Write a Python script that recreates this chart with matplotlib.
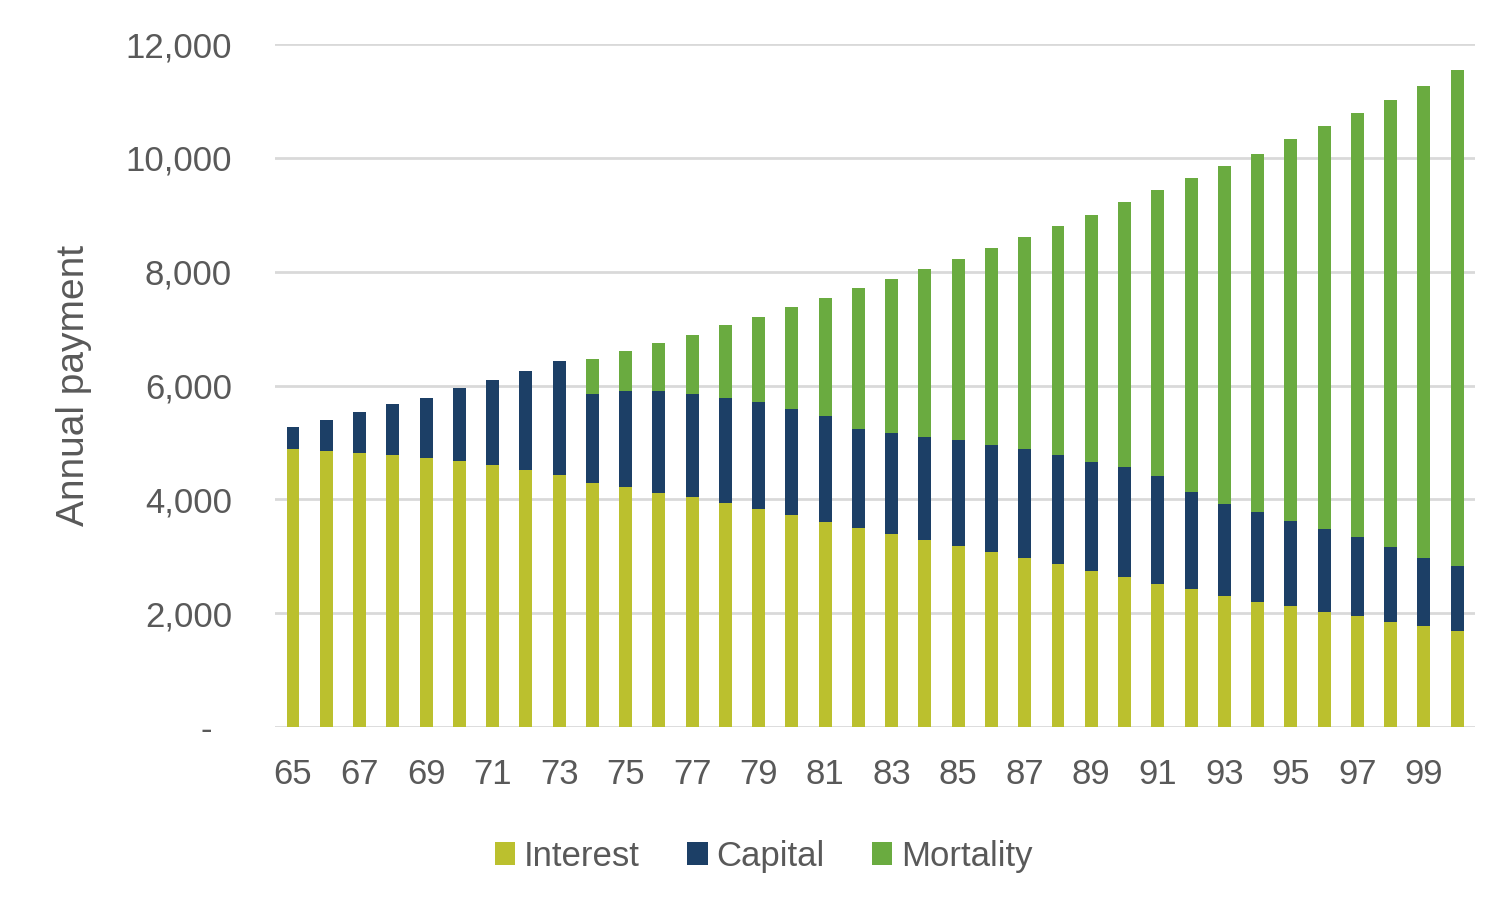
import numpy as np
import matplotlib
matplotlib.use('Agg')
from matplotlib import pyplot as plt
from matplotlib.ticker import FuncFormatter

plt.rcParams['font.family'] = ['Liberation Sans', 'DejaVu Sans']

ages = list(range(65, 101))
interest = [4890, 4850, 4810, 4780, 4720, 4670, 4600, 4510, 4430, 4280,
            4220, 4110, 4040, 3935, 3825, 3720, 3605, 3500, 3400, 3285,
            3185, 3080, 2975, 2865, 2750, 2632, 2521, 2417, 2305, 2194,
            2125, 2021, 1951, 1847, 1778, 1694]
capital = [390, 540, 720, 890, 1060, 1290, 1500, 1740, 2000, 1570,
           1680, 1790, 1810, 1845, 1880, 1875, 1860, 1740, 1770, 1815,
           1850, 1880, 1915, 1910, 1915, 1937, 1895, 1708, 1611, 1584,
           1493, 1458, 1389, 1320, 1194, 1139]
mortality = [0, 0, 0, 0, 0, 0, 0, 0, 0, 610,
             710, 850, 1040, 1290, 1500, 1785, 2065, 2465, 2710, 2950,
             3195, 3460, 3715, 4035, 4325, 4653, 5014, 5527, 5945, 6298,
             6715, 7076, 7451, 7846, 8284, 8715]
labels = ['Interest', 'Capital', 'Mortality']
colors = ['#BBC02E', '#1C3F66', '#6AAB40']

txt = '#595959'

fig = plt.figure(figsize=(15.12, 9.08), dpi=100)
ax = fig.add_axes([0.1819, 0.1993, 0.7937, 0.7522])

x = np.array(ages)
w = 0.39
i_arr = np.array(interest)
c_arr = np.array(capital)
m_arr = np.array(mortality)
ax.bar(x, i_arr, w, color=colors[0], label=labels[0], zorder=3)
ax.bar(x, c_arr, w, bottom=i_arr, color=colors[1], label=labels[1], zorder=3)
ax.bar(x, m_arr, w, bottom=i_arr + c_arr, color=colors[2], label=labels[2], zorder=3)

ax.set_xlim(64.46, 100.54)
ax.set_ylim(0, 12000)
ax.set_yticks(range(0, 12001, 2000))
ax.yaxis.set_major_formatter(FuncFormatter(lambda v, p: '-  ' if v == 0 else f'{int(v):,}'))
ax.set_xticks(ages[::2])
ax.set_xticklabels([str(a) for a in ages[::2]])

ax.grid(axis='y', color='#D9D9D9', linewidth=2, zorder=0)
for s in ['top', 'right', 'left', 'bottom']:
    ax.spines[s].set_visible(False)
ax.tick_params(axis='both', length=0, labelsize=25, labelcolor=txt)
ax.tick_params(axis='y', pad=31)
ax.tick_params(axis='x', pad=22)

ax.set_ylabel('Annual payment', fontsize=28, color=txt, labelpad=24)

leg = fig.legend(loc='center', bbox_to_anchor=(0.505, 0.057), ncol=3, frameon=False,
                 fontsize=25, handlelength=0.6, handleheight=0.6, handletextpad=0.25,
                 columnspacing=1.35)
for t in leg.get_texts():
    t.set_color(txt)

fig.savefig('out.png', dpi=100)
